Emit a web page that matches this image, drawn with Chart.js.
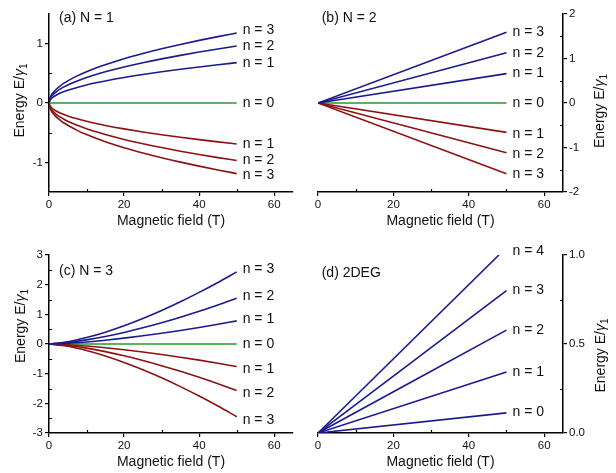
<!DOCTYPE html>
<html>
<head>
<meta charset="utf-8">
<script src="https://cdn.jsdelivr.net/npm/chart.js@4.4.1/dist/chart.umd.min.js"></script>
<style>
  body { margin: 0; background: #fff; }
  #wrap { position: relative; width: 616px; height: 473px; }
  canvas { position: absolute; }
</style>
</head>
<body>
<div id="wrap">
  <canvas id="panelA" width="308" height="236" style="left:0;top:0"></canvas>
  <canvas id="panelB" width="308" height="236" style="left:308px;top:0"></canvas>
  <canvas id="panelC" width="308" height="237" style="left:0;top:236px"></canvas>
  <canvas id="panelD" width="308" height="237" style="left:308px;top:236px"></canvas>
</div>
<script>
// (a) N = 1
const fieldA = [0, 0.25, 0.5, 1, 2, 3, 4, 5, 7.5, 10, 12.5, 15, 20, 25, 30, 35, 40, 45, 50];
const aPlus1 = [0, 0.048, 0.068, 0.096, 0.136, 0.167, 0.192, 0.215, 0.263, 0.304, 0.340, 0.372, 0.430, 0.481, 0.527, 0.569, 0.608, 0.645, 0.680];
const aPlus2 = [0, 0.068, 0.096, 0.136, 0.192, 0.235, 0.272, 0.304, 0.372, 0.429, 0.480, 0.526, 0.607, 0.679, 0.744, 0.803, 0.859, 0.911, 0.960];
const aPlus3 = [0, 0.083, 0.118, 0.167, 0.236, 0.289, 0.334, 0.373, 0.457, 0.528, 0.590, 0.646, 0.746, 0.834, 0.914, 0.987, 1.055, 1.119, 1.180];
const aMinus1 = [0, -0.049, -0.069, -0.098, -0.138, -0.169, -0.195, -0.218, -0.267, -0.309, -0.345, -0.378, -0.436, -0.488, -0.534, -0.577, -0.617, -0.655, -0.690];
const aMinus2 = [0, -0.069, -0.097, -0.137, -0.194, -0.238, -0.274, -0.307, -0.376, -0.434, -0.485, -0.531, -0.614, -0.686, -0.751, -0.812, -0.868, -0.920, -0.970];
const aMinus3 = [0, -0.084, -0.119, -0.168, -0.238, -0.291, -0.337, -0.376, -0.461, -0.532, -0.595, -0.652, -0.753, -0.841, -0.922, -0.996, -1.064, -1.129, -1.190];
const fieldA0 = [0, 50];
const aZero = [0, 0];
const aLabelY = [1.22, 0.96, 0.68, 0, -0.69, -0.97, -1.22];

// (b) N = 2
const fieldB = [0, 50];
const bPlus1 = [0, 0.66];
const bPlus2 = [0, 1.13];
const bPlus3 = [0, 1.59];
const bMinus1 = [0, -0.66];
const bMinus2 = [0, -1.12];
const bMinus3 = [0, -1.59];
const bZero = [0, 0];
const bLabelY = [1.59, 1.13, 0.66, 0, -0.69, -1.16, -1.59];

// (c) N = 3
const fieldC = [0, 5, 10, 15, 20, 25, 30, 35, 40, 45, 50];
const cPlus1 = [0, 0.025, 0.070, 0.128, 0.197, 0.276, 0.363, 0.457, 0.558, 0.666, 0.780];
const cPlus2 = [0, 0.049, 0.138, 0.253, 0.390, 0.545, 0.716, 0.902, 1.102, 1.315, 1.540];
const cPlus3 = [0, 0.077, 0.217, 0.399, 0.615, 0.859, 1.129, 1.423, 1.739, 2.075, 2.430];
const cMinus1 = [0, -0.024, -0.068, -0.125, -0.192, -0.269, -0.353, -0.445, -0.544, -0.649, -0.760];
const cMinus2 = [0, -0.050, -0.140, -0.258, -0.397, -0.555, -0.730, -0.920, -1.124, -1.341, -1.570];
const cMinus3 = [0, -0.077, -0.219, -0.402, -0.620, -0.866, -1.139, -1.436, -1.754, -2.092, -2.450];
const fieldC0 = [0, 50];
const cZero = [0, 0];
const cLabelY = [2.52, 1.63, 0.83, 0, -0.84, -1.66, -2.58];

// (d) 2DEG
const fieldD = [0, 50];
const fieldD4 = [0, 48];
const dLevel0 = [0, 0.113];
const dLevel1 = [0, 0.343];
const dLevel2 = [0, 0.578];
const dLevel3 = [0, 0.80];
const dLevel4 = [0, 1.0];
const dLabelY = [1.024, 0.803, 0.578, 0.343, 0.118];

// labels and ticks
const bandLabels = ['n = 3', 'n = 2', 'n = 1', 'n = 0', 'n = 1', 'n = 2', 'n = 3'];
const dLabels = ['n = 4', 'n = 3', 'n = 2', 'n = 1', 'n = 0'];
const labelField = 51.6;
const xMajor = [0, 20, 40, 60];
const xMinor = [10, 30, 50];

const FONT = '"Liberation Sans", Arial, sans-serif';
const BLUE = '#1a1a8f';
const RED = '#8c1111';
const GREEN = '#249a24';

Chart.defaults.font.family = FONT;

function line(xs, ys, color) {
  return {
    data: xs.map((x, i) => ({ x: x, y: ys[i] })),
    borderColor: color,
    borderWidth: 1.6,
    pointRadius: 0,
    fill: false,
    cubicInterpolationMode: 'monotone',
  };
}

function drawEnergyTitle(ctx, cx, cy) {
  ctx.save();
  ctx.translate(cx, cy);
  ctx.rotate(-Math.PI / 2);
  ctx.fillStyle = '#111';
  ctx.textAlign = 'left';
  ctx.textBaseline = 'middle';
  ctx.font = '14px ' + FONT;
  const w1 = ctx.measureText('Energy E/').width;
  ctx.font = 'italic 14px ' + FONT;
  const w2 = ctx.measureText('γ').width;
  ctx.font = '10px ' + FONT;
  const w3 = ctx.measureText('1').width;
  const x0 = -(w1 + w2 + w3) / 2;
  ctx.font = '14px ' + FONT;
  ctx.fillText('Energy E/', x0, 0);
  ctx.font = 'italic 14px ' + FONT;
  ctx.fillText('γ', x0 + w1, 0);
  ctx.font = '10px ' + FONT;
  ctx.fillText('1', x0 + w1 + w2, 4);
  ctx.restore();
}

// minor ticks (inward), curve labels, panel tag, axis titles
const decor = {
  id: 'decor',
  afterDraw(chart) {
    const o = chart.options.plugins.decor;
    const ctx = chart.ctx;
    const ca = chart.chartArea;
    const x = chart.scales.x, y = chart.scales.y;
    ctx.save();
    ctx.strokeStyle = '#000';
    ctx.lineWidth = 1.2;
    ctx.beginPath();
    xMinor.forEach(v => {
      const px = Math.round(x.getPixelForValue(v)) + 0.5;
      ctx.moveTo(px, ca.bottom);
      ctx.lineTo(px, ca.bottom - 3);
    });
    o.yMinor.forEach(v => {
      const py = Math.round(y.getPixelForValue(v)) + 0.5;
      const edge = o.right ? ca.right : ca.left;
      ctx.moveTo(edge, py);
      ctx.lineTo(edge + (o.right ? -3 : 3), py);
    });
    ctx.stroke();

    ctx.fillStyle = '#111';
    ctx.font = '14px ' + FONT;
    ctx.textAlign = 'left';
    ctx.textBaseline = 'middle';
    o.labels.forEach((t, i) => {
      ctx.fillText(t, x.getPixelForValue(labelField), y.getPixelForValue(o.labelY[i]));
    });
    ctx.fillText(o.tag, ca.left + o.tagDx, ca.top + o.tagDy);

    ctx.textAlign = 'center';
    ctx.fillText('Magnetic field (T)', (ca.left + ca.right) / 2, ca.bottom + 29);
    ctx.restore();

    const tx = o.right ? ca.right + o.titleDx : ca.left - o.titleDx;
    drawEnergyTitle(ctx, tx, (ca.top + ca.bottom) / 2 + o.titleDy);
  }
};

function makePanel(id, p) {
  new Chart(document.getElementById(id), {
    type: 'line',
    data: { datasets: p.datasets },
    plugins: [decor],
    options: {
      responsive: false,
      animation: false,
      events: [],
      layout: { padding: p.padding },
      plugins: {
        legend: { display: false },
        tooltip: { enabled: false },
        decor: p,
      },
      scales: {
        x: {
          type: 'linear',
          min: 0,
          max: 65,
          afterBuildTicks: s => { s.ticks = xMajor.map(v => ({ value: v })); },
          afterFit: s => { s.height = p.xHeight; },
          grid: { drawOnChartArea: false, drawTicks: true, tickLength: 4, color: '#000', lineWidth: 1.2 },
          border: { display: true, color: '#000', width: 1.5 },
          ticks: { padding: 2, color: '#111', font: { size: 11.5 }, maxRotation: 0, autoSkip: false },
        },
        y: {
          type: 'linear',
          position: p.right ? 'right' : 'left',
          min: p.yMin,
          max: p.yMax,
          afterBuildTicks: s => { s.ticks = p.yMajor.map(v => ({ value: v })); },
          afterFit: s => { s.width = p.yWidth; },
          grid: { drawOnChartArea: false, drawTicks: true, tickLength: 4, color: '#000', lineWidth: 1.2 },
          border: { display: true, color: '#000', width: 1.5 },
          ticks: {
            padding: 2, color: '#111', font: { size: 11.5 }, autoSkip: false,
            callback: v => p.decimals ? v.toFixed(p.decimals) : String(v),
          },
        },
      },
    },
  });
}

makePanel('panelA', {
  datasets: [
    line(fieldA, aPlus3, BLUE), line(fieldA, aPlus2, BLUE), line(fieldA, aPlus1, BLUE),
    line(fieldA, aMinus1, RED), line(fieldA, aMinus2, RED), line(fieldA, aMinus3, RED),
    line(fieldA0, aZero, GREEN),
  ],
  labels: bandLabels, labelY: aLabelY,
  tag: '(a) N = 1', tagDx: 10, tagDy: 4.5,
  yMin: -1.5, yMax: 1.5, yMajor: [-1, 0, 1], yMinor: [-0.5, 0.5],
  right: false, padding: { left: 0, top: 14, right: 15, bottom: 0 },
  yWidth: 49, xHeight: 44, titleDx: 29, titleDy: -2.5,
});

makePanel('panelB', {
  datasets: [
    line(fieldB, bPlus3, BLUE), line(fieldB, bPlus2, BLUE), line(fieldB, bPlus1, BLUE),
    line(fieldB, bMinus1, RED), line(fieldB, bMinus2, RED), line(fieldB, bMinus3, RED),
    line(fieldB, bZero, GREEN),
  ],
  labels: bandLabels, labelY: bLabelY,
  tag: '(b) N = 2', tagDx: 3.7, tagDy: 4,
  yMin: -2, yMax: 2, yMajor: [-2, -1, 0, 1, 2], yMinor: [-1.5, -0.5, 0.5, 1.5],
  right: true, padding: { left: 10, top: 14, right: 0, bottom: 0 },
  yWidth: 53, xHeight: 44, titleDx: 37, titleDy: 8,
});

makePanel('panelC', {
  datasets: [
    line(fieldC, cPlus3, BLUE), line(fieldC, cPlus2, BLUE), line(fieldC, cPlus1, BLUE),
    line(fieldC, cMinus1, RED), line(fieldC, cMinus2, RED), line(fieldC, cMinus3, RED),
    line(fieldC0, cZero, GREEN),
  ],
  labels: bandLabels, labelY: cLabelY,
  tag: '(c) N = 3', tagDx: 10, tagDy: 15.7,
  yMin: -3, yMax: 3, yMajor: [-3, -2, -1, 0, 1, 2, 3], yMinor: [-2.5, -1.5, -0.5, 0.5, 1.5, 2.5],
  right: false, padding: { left: 0, top: 19, right: 15, bottom: 0 },
  yWidth: 49, xHeight: 40, titleDx: 28, titleDy: -18,
});

makePanel('panelD', {
  datasets: [
    line(fieldD4, dLevel4, BLUE), line(fieldD, dLevel3, BLUE), line(fieldD, dLevel2, BLUE),
    line(fieldD, dLevel1, BLUE), line(fieldD, dLevel0, BLUE),
  ],
  labels: dLabels, labelY: dLabelY,
  tag: '(d) 2DEG', tagDx: 3.7, tagDy: 18.3,
  yMin: 0, yMax: 1, yMajor: [0, 0.5, 1], yMinor: [0.25, 0.75], decimals: 1,
  right: true, padding: { left: 10, top: 19, right: 0, bottom: 0 },
  yWidth: 53, xHeight: 40, titleDx: 38, titleDy: 11.5,
});
</script>
</body>
</html>
